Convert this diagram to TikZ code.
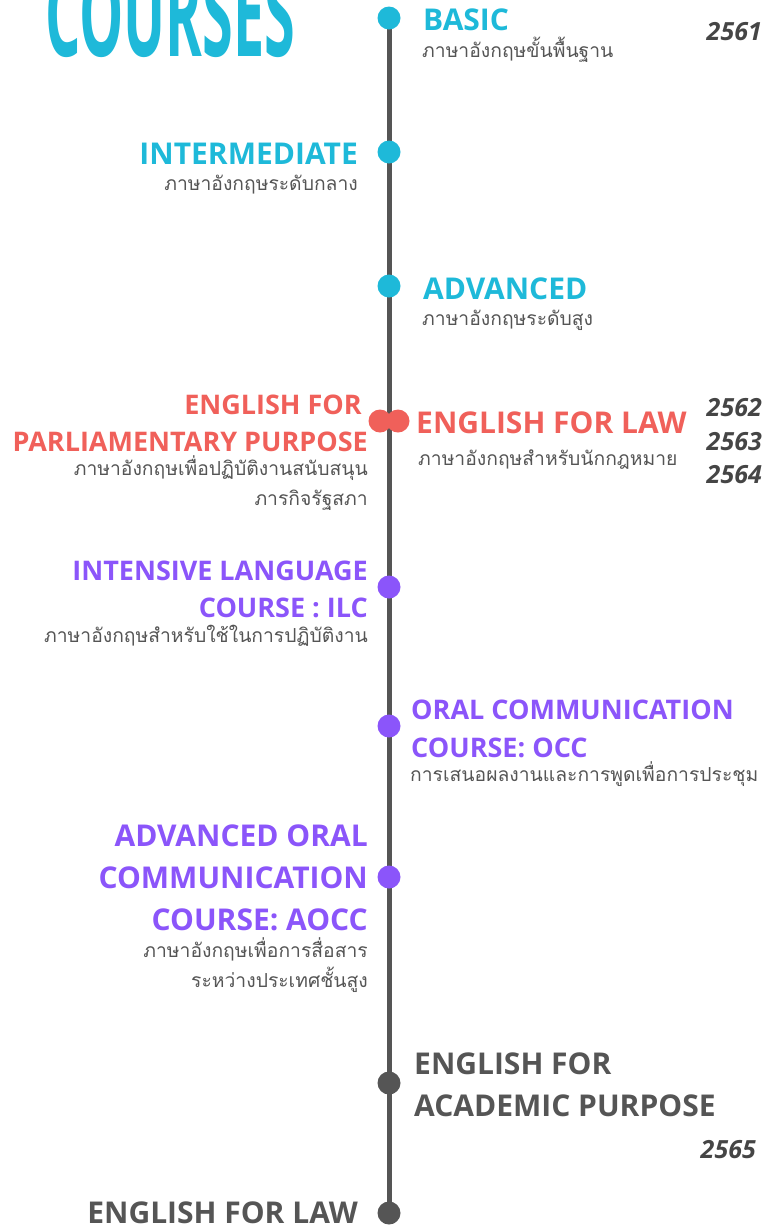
\documentclass[tikz,border=0pt]{standalone}
\usepackage{fontspec}
\setmainfont{Open Sans}
\newfontfamily\thaifont[Script=Thai]{Loma}
\usepackage{graphicx}
\definecolor{basicblue}{HTML}{1EB9D9}
\definecolor{lawred}{HTML}{F0605A}
\definecolor{oralpurple}{HTML}{8B55FA}
\definecolor{linegray}{HTML}{555555}
\definecolor{subgray}{HTML}{555555}
\definecolor{yeargray}{HTML}{454545}
\tikzset{
	dot/.style={circle, inner sep=0pt, minimum size=23pt},
	head/.style={inner sep=0pt, font=\fontsize{30}{30}\selectfont\bfseries},
	smallhead/.style={inner sep=0pt, font=\fontsize{27}{27}\selectfont\bfseries},
	sub/.style={inner sep=0pt, text=subgray, font=\fontsize{19.3}{19.3}\selectfont\thaifont},
	year/.style={inner sep=0pt, anchor=base east, text=yeargray, font=\fontsize{25}{25}\selectfont\bfseries\itshape}
}
\newcommand{\milestone}[3] % name, y in px, colour
{
	\node[dot, fill=#3] (#1) at (389,#2) {};
}

\begin{document}
\begin{tikzpicture}[x=1pt, y=-1pt]
	% page: 763px x 1227px
	\useasboundingbox (0,0) rectangle (763,1227);
	\clip (0,0) rectangle (763,1227);
	
	% title, cut at the top
	\node[anchor=south west, inner sep=0pt, text=basicblue] (title) at (45,58)
		{\resizebox{250pt}{86pt}{\bfseries COURSES}};
	
	% timeline
	\coordinate (top) at (389,18);
	\coordinate (bottom) at (389,1213);
	\draw[line width=5pt, linegray] (top) -- (bottom);
	
	\milestone{basic}{18}{basicblue};
	\milestone{inter}{152}{basicblue};
	\milestone{adv}{286}{basicblue};
	\node[dot, fill=lawred] (parl) at (380,421) {};
	\node[dot, fill=lawred] (law) at (398,421) {};
	\milestone{ilc}{587}{oralpurple};
	\milestone{occ}{726}{oralpurple};
	\milestone{aocc}{877}{oralpurple};
	\milestone{acad}{1083}{linegray};
	\milestone{lawgray}{1213}{linegray};
	
	% blue courses
	\node[head, anchor=base west, text=basicblue] (basic-t) at (423,30) {BASIC};
	\node[sub, anchor=base west] (basic-s) at (422,57) {ภาษาอังกฤษขั้นพื้นฐาน};
	\node[head, anchor=base east, text=basicblue] (inter-t) at (358,164) {INTERMEDIATE};
	\node[sub, anchor=base east] (inter-s) at (358,190) {ภาษาอังกฤษระดับกลาง};
	\node[head, anchor=base west, text=basicblue] (adv-t) at (423,299) {ADVANCED};
	\node[sub, anchor=base west] (adv-s) at (422,325) {ภาษาอังกฤษระดับสูง};
	
	% red courses
	\node[smallhead, anchor=base east, text=lawred] (parl-t1) at (362,414) {ENGLISH FOR};
	\node[smallhead, anchor=base east, text=lawred] (parl-t2) at (368,451) {PARLIAMENTARY PURPOSE};
	\node[sub, anchor=base east] (parl-s1) at (368,475) {ภาษาอังกฤษเพื่อปฏิบัติงานสนับสนุน};
	\node[sub, anchor=base east] (parl-s2) at (368,505) {ภารกิจรัฐสภา};
	\node[head, anchor=base west, text=lawred] (law-t) at (416,433) {ENGLISH FOR LAW};
	\node[sub, anchor=base west] (law-s) at (418,465) {ภาษาอังกฤษสำหรับนักกฎหมาย};
	
	% purple courses
	\node[smallhead, anchor=base east, text=oralpurple] (ilc-t1) at (368,580) {INTENSIVE LANGUAGE};
	\node[smallhead, anchor=base east, text=oralpurple] (ilc-t2) at (368,617) {COURSE : ILC};
	\node[sub, anchor=base east] (ilc-s) at (368,642) {ภาษาอังกฤษสำหรับใช้ในการปฏิบัติงาน};
	\node[smallhead, anchor=base west, text=oralpurple] (occ-t1) at (411,719) {ORAL COMMUNICATION};
	\node[smallhead, anchor=base west, text=oralpurple] (occ-t2) at (411,757) {COURSE: OCC};
	\node[sub, anchor=base west] (occ-s) at (410,781) {การเสนอผลงานและการพูดเพื่อการประชุม};
	\node[head, anchor=base east, text=oralpurple] (aocc-t1) at (368,846) {ADVANCED ORAL};
	\node[head, anchor=base east, text=oralpurple] (aocc-t2) at (368,888) {COMMUNICATION};
	\node[head, anchor=base east, text=oralpurple] (aocc-t3) at (368,930) {COURSE: AOCC};
	\node[sub, anchor=base east] (aocc-s1) at (368,957) {ภาษาอังกฤษเพื่อการสื่อสาร};
	\node[sub, anchor=base east] (aocc-s2) at (368,987) {ระหว่างประเทศชั้นสูง};
	
	% gray courses
	\node[head, anchor=base west, text=linegray] (acad-t1) at (414,1074) {ENGLISH FOR};
	\node[head, anchor=base west, text=linegray] (acad-t2) at (414,1116) {ACADEMIC PURPOSE};
	\node[head, anchor=base east, text=linegray] (lawgray-t) at (358,1223) {ENGLISH FOR LAW};
	
	% years
	\node[year] (y2561) at (762,40) {2561};
	\node[year] (y2562) at (762,416) {2562};
	\node[year] (y2563) at (762,450) {2563};
	\node[year] (y2564) at (762,483) {2564};
	\node[year] (y2565) at (756,1158) {2565};
	
\end{tikzpicture}
\end{document}
